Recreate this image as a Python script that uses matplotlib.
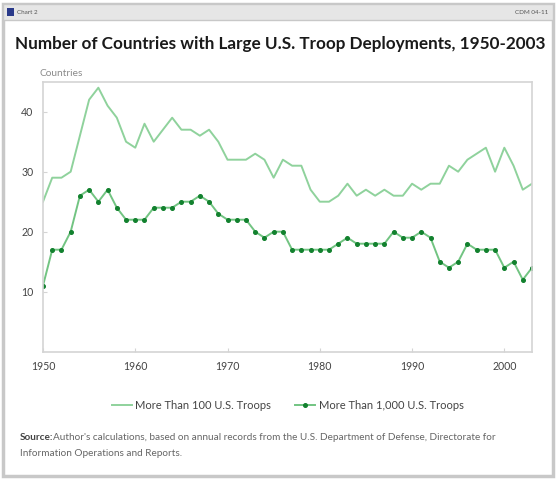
import matplotlib
matplotlib.use("Agg")
import matplotlib.pyplot as plt
from matplotlib.patches import Rectangle

years = list(range(1950, 2004))
over_100 = [25, 29, 29, 30, 36, 42, 44, 41, 39, 35,
            34, 38, 35, 37, 39, 37, 37, 36, 37, 35,
            32, 32, 32, 33, 32, 29, 32, 31, 31, 27,
            25, 25, 26, 28, 26, 27, 26, 27, 26, 26,
            28, 27, 28, 28, 31, 30, 32, 33, 34, 30,
            34, 31, 27, 28]
over_1000 = [11, 17, 17, 20, 26, 27, 25, 27, 24, 22,
             22, 22, 24, 24, 24, 25, 25, 26, 25, 23,
             22, 22, 22, 20, 19, 20, 20, 17, 17, 17,
             17, 17, 18, 19, 18, 18, 18, 18, 20, 19,
             19, 20, 19, 15, 14, 15, 18, 17, 17, 17,
             14, 15, 12, 14]
xticks = [1950, 1960, 1970, 1980, 1990, 2000]
xtick_labels = ["1950", "1960", "1970", "1980", "1990", "2000"]
yticks = [10, 20, 30, 40]
series_labels = ["More Than 100 U.S. Troops", "More Than 1,000 U.S. Troops"]
title = "Number of Countries with Large U.S. Troop Deployments, 1950-2003"

plt.rcParams['font.family'] = ['Lato', 'DejaVu Sans']

W, H = 558, 480
fig = plt.figure(figsize=(W / 100, H / 100), dpi=100)
fig.patch.set_facecolor('white')

# outer frame and header bar
fig.patches.append(Rectangle((3 / W, 4 / H), 550 / W, 472 / H, transform=fig.transFigure,
                             facecolor='white', edgecolor='#c8c8c8', linewidth=2.5, zorder=-5))
fig.patches.append(Rectangle((3 / W, 460 / H), 550 / W, 16 / H, transform=fig.transFigure,
                             facecolor='#e6e6e6', edgecolor='#c8c8c8', linewidth=1, zorder=-4))
fig.patches.append(Rectangle((7 / W, 464 / H), 7 / W, 8 / H, transform=fig.transFigure,
                             facecolor='#2a3a8a', edgecolor='none', zorder=-3))
fig.text(17 / W, 468 / H, "Chart 2", fontsize=4.5, color='#555555', va='center', ha='left')
fig.text(548 / W, 468 / H, "CDM 04-11", fontsize=4.5, color='#555555', va='center', ha='right')

fig.text(15 / W, 436 / H, title, fontsize=12.3, fontweight='bold', color='#1a1a1a',
         va='center', ha='left')

ax = fig.add_axes([43 / W, 128.3 / H, 489 / W, 270 / H])
ax.set_zorder(5)
ax.plot(years, over_100, color='#8fd29c', linewidth=1.4, label=series_labels[0])
ax.plot(years, over_1000, color='#72c482', linewidth=1.4, marker='o', markersize=2.6,
        markerfacecolor='#12812e', markeredgecolor='#12812e', label=series_labels[1])
ax.set_xlim(1950, 2003)
ax.set_ylim(0, 45)
ax.set_xticks(xticks)
ax.set_xticklabels(xtick_labels)
ax.set_yticks(yticks)
for s in ax.spines.values():
    s.set_color('#d4d4d4')
    s.set_linewidth(1.2)
ax.tick_params(axis='both', direction='in', length=3, color='#d4d4d4', labelsize=7.6,
               labelcolor='#444444')
ax.tick_params(axis='x', pad=7)
ax.tick_params(axis='y', pad=7)
fig.text(40 / W, 407 / H, "Countries", fontsize=7.3, color='#8a8a8a', va='center', ha='left')

ax.legend(loc='center', bbox_to_anchor=(0.5, -0.2), ncol=2, frameon=False, fontsize=8,
          handlelength=1.8, handletextpad=0.3, columnspacing=2.2, labelcolor='#444444')

fig.text(20 / W, 42 / H, "Source:", fontsize=7.2, fontweight='bold', color='#444444',
         va='center', ha='left')
fig.text(53 / W, 42 / H,
         "Author's calculations, based on annual records from the U.S. Department of Defense, Directorate for",
         fontsize=7.2, color='#666666', va='center', ha='left')
fig.text(20 / W, 26 / H, "Information Operations and Reports.", fontsize=7.2, color='#666666',
         va='center', ha='left')

fig.savefig("out.png", dpi=100, facecolor='white')
